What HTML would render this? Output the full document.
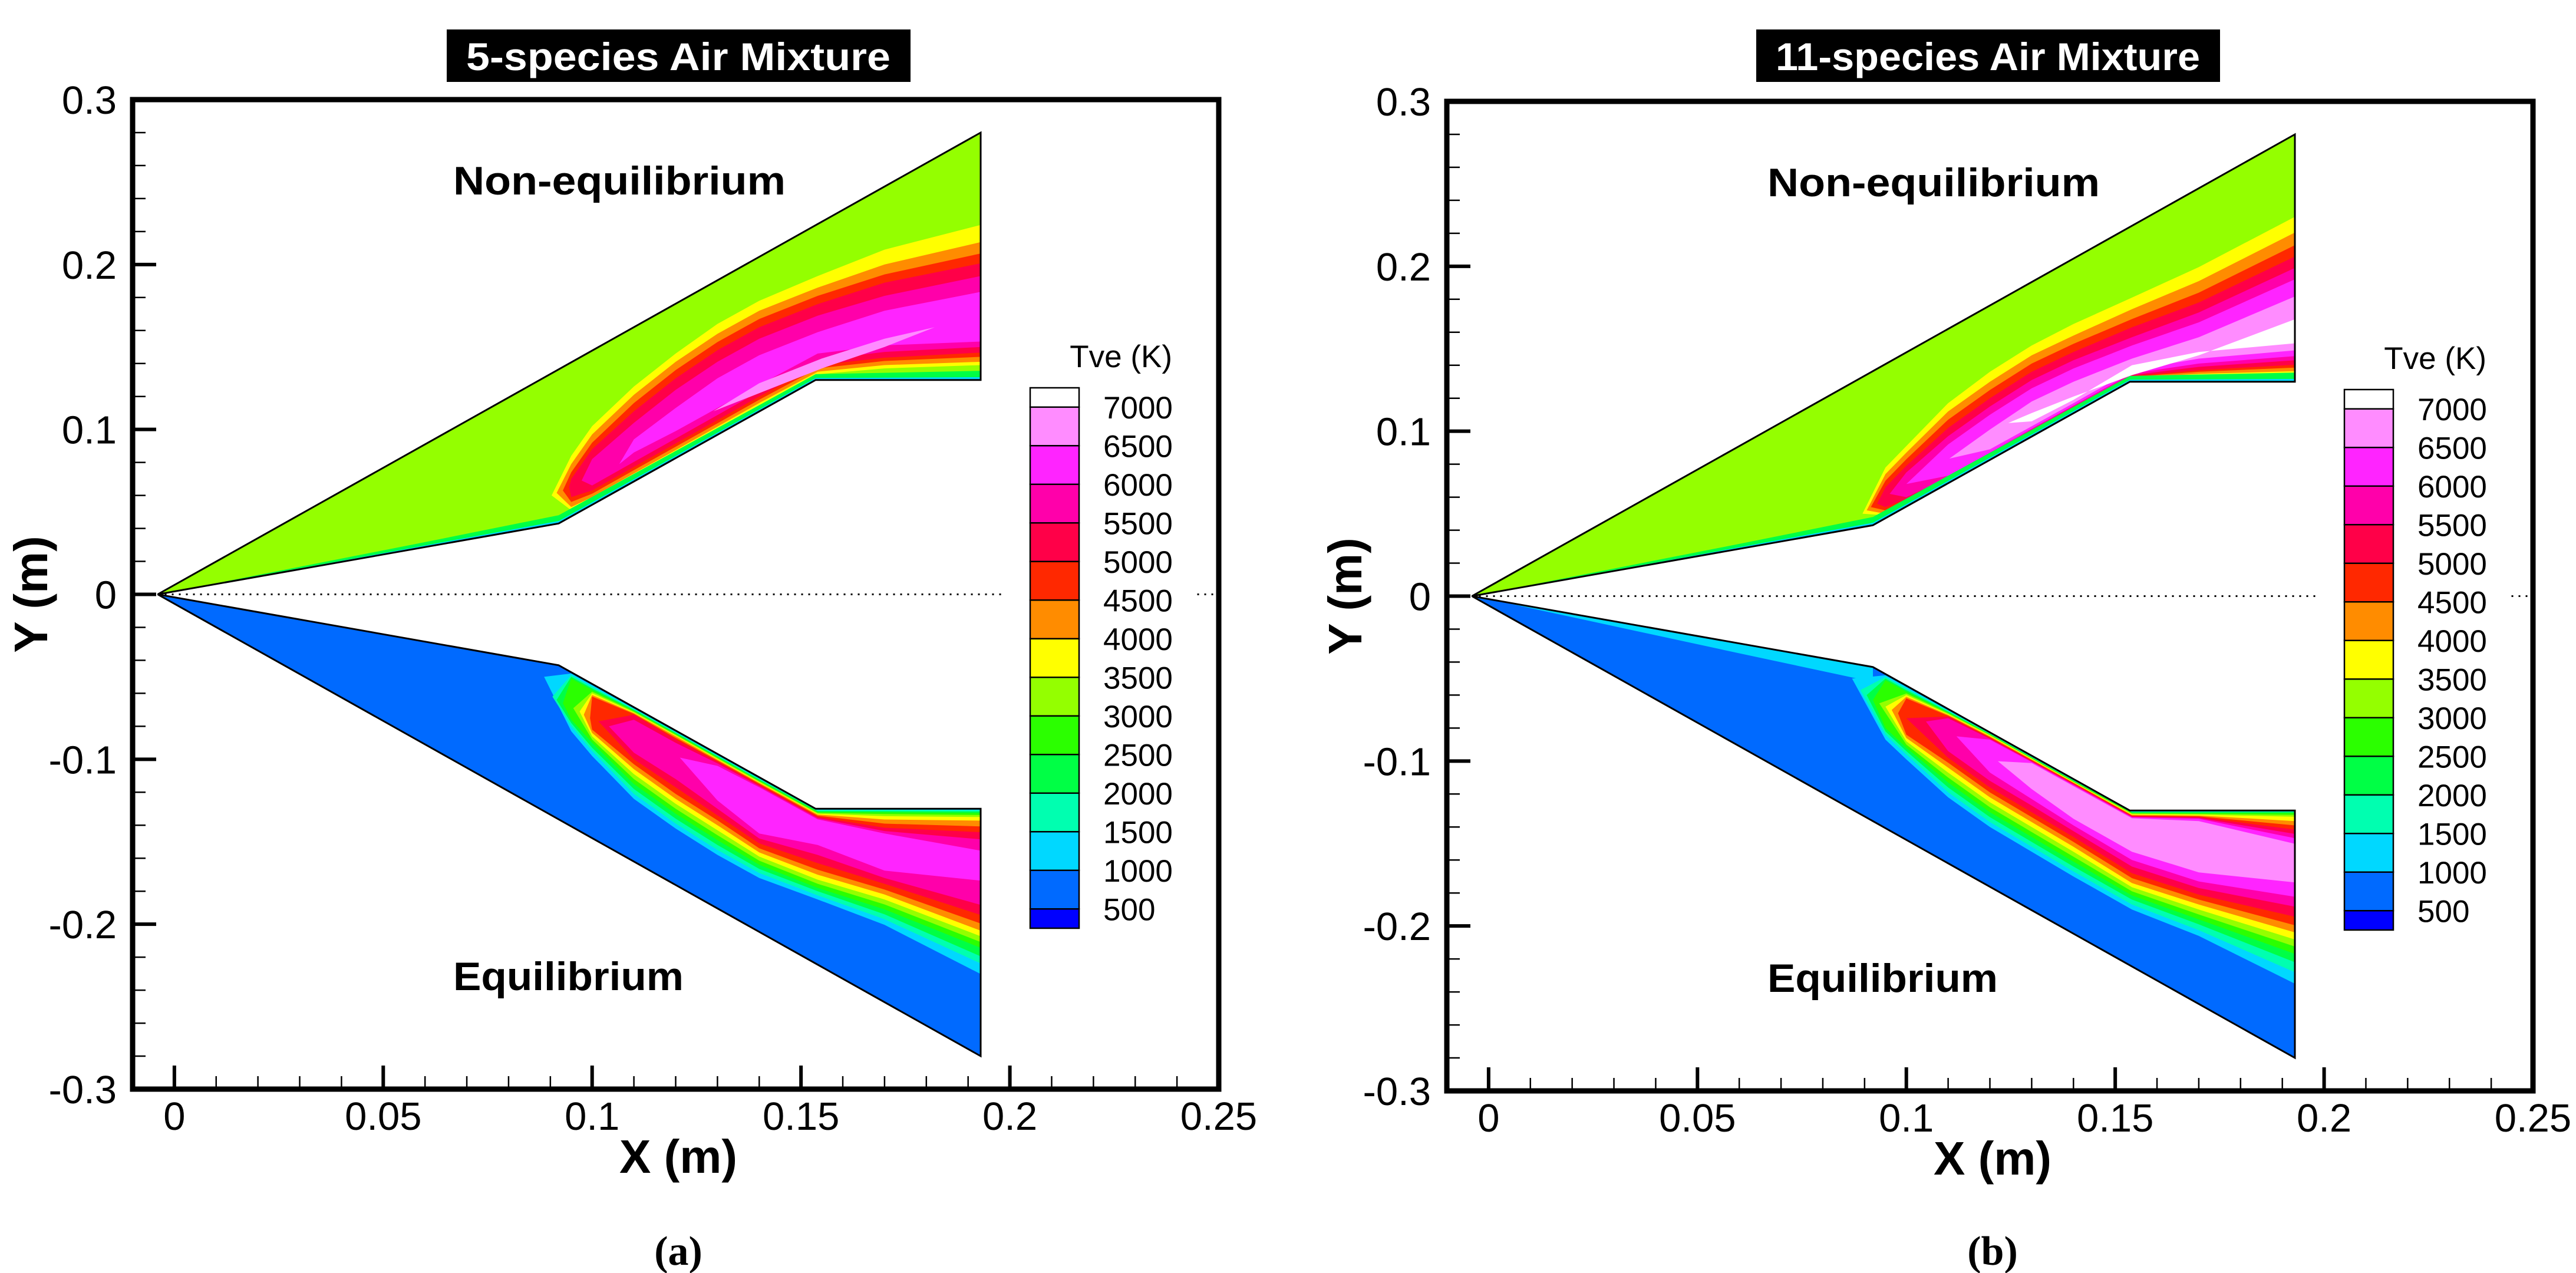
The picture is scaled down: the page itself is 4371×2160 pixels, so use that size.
<!DOCTYPE html>
<html><head><meta charset="utf-8">
<style>
html,body{margin:0;padding:0;background:#fff;}
svg{display:block;}
text{font-family:"Liberation Sans",sans-serif;}
</style></head>
<body>
<svg id="chart" xmlns="http://www.w3.org/2000/svg" width="4371" height="2160" viewBox="0 0 4371 2160">
<rect x="0" y="0" width="4371" height="2160" fill="#fff"/>
</svg>
<script>
// ---------- data ----------
const levelValues = [1000,1500,2000,2500,3000,3500,4000,4500,5000,5500,6000,6500,7000];
const levelColors = ['#00d8ff','#00ffb0','#00ff45','#2bff00','#94ff00','#ffff00','#ff8c00','#ff2800','#ff0048','#ff00aa','#ff24ff','#ff8cff','#ffffff'];
const legendLabels = ['7000','6500','6000','5500','5000','4500','4000','3500','3000','2500','2000','1500','1000','500'];
const legendColors = ['#ffffff','#ff8cff','#ff24ff','#ff00aa','#ff0048','#ff2800','#ff8c00','#ffff00','#94ff00','#2bff00','#00ff45','#00ffb0','#00d8ff','#006aff','#0000ff'];
const xTicks = [0,0.05,0.1,0.15,0.2,0.25];
const xTickLabels = ['0','0.05','0.1','0.15','0.2','0.25'];
const yTicks = [-0.3,-0.2,-0.1,0,0.1,0.2,0.3];
const yTickLabels = ['-0.3','-0.2','-0.1','0','0.1','0.2','0.3'];
const stations = [0.095,0.10,0.11,0.12,0.13,0.14,0.154,0.17,0.193];
const noseX = -0.004;
const kink1 = [0.092,0.043];
const kink2 = [0.1535,0.13];
const exitX = 0.193;
const shockEndY = 0.28;
const stripX = [0.0,0.03,0.06,0.092,0.1535,0.193];
const stripGreen = [0.0,0.0015,0.003,0.005,0.0035,0.0055];
const stripCyan = [0.0,0.0005,0.001,0.0015,0.0012,0.0017];
const bStripX = [0.0,0.03,0.06,0.092];
const bStripCyan = [0.0,0.003,0.006,0.009];

// panel (a) top: non-equilibrium, 5-species
const aTopLevels = [3500,4000,4500,5000,5500,6000];
const aTopApex = [[0.0903,0.060],[0.0915,0.0615],[0.093,0.063],[0.0945,0.065],[0.0975,0.069],[0.1065,0.079]];
const aTopOuter = [
 [0.084,0.102,0.126,0.146,0.164,0.178,0.193,0.209,0.224],
 [0.079,0.097,0.121,0.141,0.158,0.172,0.186,0.200,0.2136],
 [0.074,0.092,0.116,0.136,0.153,0.167,0.181,0.194,0.2067],
 [0.070,0.088,0.111,0.131,0.148,0.162,0.176,0.189,0.2007],
 [null,0.082,0.104,0.124,0.141,0.155,0.169,0.181,0.193],
 [null,null,0.094,0.113,0.131,0.145,0.159,0.172,0.1834]];
const aTopInner = [
 [0.051,0.0575,0.0718,0.086,0.1002,0.1145,0.1335,0.137,0.139],
 [0.053,0.059,0.0733,0.0875,0.1017,0.116,0.135,0.139,0.141],
 [0.056,0.061,0.0753,0.0895,0.1037,0.118,0.137,0.1415,0.144],
 [0.059,0.063,0.0773,0.0915,0.1057,0.120,0.139,0.1435,0.1466],
 [null,0.066,0.0803,0.0945,0.1087,0.123,0.142,0.147,0.150],
 [null,null,0.086,0.099,0.113,0.127,0.146,0.151,0.1533]];
const aStreakX = [0.129,0.14,0.155,0.17,0.182];
const aStreakOuter = [0.111,0.128,0.143,0.155,0.162];
const aStreakInner = [0.111,0.122,0.137,0.150,0.162];

// panel (a) bottom: equilibrium, 5-species
const aLowLevels = [1000,1500,2000,2500,3000,3500,4000,4500,5000,5500,6000];
const aLowApex = [[0.0885,-0.050],[0.0905,-0.062],[0.0915,-0.064],[0.093,-0.066],[0.0955,-0.069],[0.097,-0.071],[0.098,-0.073],[0.0995,-0.075],[0.1015,-0.077],[0.104,-0.080],[0.121,-0.099]];
const aLowOuter = [
 [-0.083,-0.098,-0.124,-0.142,-0.158,-0.172,-0.185,-0.2004,-0.2302],
 [-0.080,-0.095,-0.121,-0.139,-0.155,-0.169,-0.1825,-0.197,-0.2238],
 [-0.078,-0.093,-0.118,-0.136,-0.152,-0.1665,-0.180,-0.194,-0.2195],
 [-0.076,-0.090,-0.115,-0.133,-0.149,-0.164,-0.178,-0.191,-0.2143],
 [null,-0.088,-0.112,-0.130,-0.146,-0.1615,-0.1755,-0.188,-0.2108],
 [null,-0.086,-0.109,-0.127,-0.143,-0.159,-0.173,-0.185,-0.2073],
 [null,-0.084,-0.106,-0.124,-0.140,-0.1565,-0.170,-0.182,-0.2039],
 [null,-0.082,-0.103,-0.121,-0.137,-0.154,-0.167,-0.179,-0.1996],
 [null,null,-0.100,-0.117,-0.134,-0.151,-0.163,-0.1755,-0.1944],
 [null,null,-0.096,-0.112,-0.130,-0.148,-0.158,-0.172,-0.1883],
 [null,null,null,null,-0.125,-0.145,-0.152,-0.1675,-0.1736]];
const aLowInner = [
 [-0.048,-0.055,-0.069,-0.083,-0.0972,-0.1113,-0.1302,-0.1302,-0.1302],
 [-0.049,-0.056,-0.0695,-0.0835,-0.0977,-0.1118,-0.1308,-0.1308,-0.1309],
 [-0.050,-0.057,-0.070,-0.084,-0.0982,-0.1123,-0.1314,-0.1315,-0.1317],
 [-0.051,-0.058,-0.0705,-0.0845,-0.0987,-0.1128,-0.132,-0.1322,-0.1326],
 [null,-0.059,-0.071,-0.085,-0.0992,-0.1133,-0.1325,-0.1332,-0.1338],
 [null,-0.060,-0.0715,-0.0855,-0.0997,-0.1138,-0.133,-0.1345,-0.135],
 [null,-0.061,-0.072,-0.086,-0.1002,-0.1143,-0.1335,-0.1365,-0.1372],
 [null,-0.062,-0.0725,-0.087,-0.1008,-0.1148,-0.1342,-0.139,-0.1407],
 [null,null,-0.073,-0.088,-0.1015,-0.1155,-0.135,-0.1415,-0.1442],
 [null,null,-0.076,-0.090,-0.1025,-0.1162,-0.1357,-0.1435,-0.1485],
 [null,null,null,null,-0.104,-0.117,-0.1364,-0.145,-0.1554]];

// panel (b) top: non-equilibrium, 11-species
const bTopLevels = [3500,4000,4500,5000,5500,6000,6500,7000];
const bTopApex = [[0.0895,0.050],[0.0905,0.052],[0.0915,0.054],[0.093,0.056],[0.096,0.062],[0.100,0.068],[0.1103,0.0834],[0.1244,0.105]];
const bTopOuter = [
 [0.078,0.091,0.117,0.136,0.152,0.165,0.181,0.1995,0.23],
 [0.074,0.087,0.112,0.130,0.146,0.158,0.174,0.191,0.2205],
 [0.070,0.083,0.107,0.125,0.141,0.153,0.168,0.184,0.2128],
 [0.066,0.079,0.102,0.120,0.136,0.148,0.163,0.178,0.2059],
 [null,0.075,0.097,0.115,0.131,0.143,0.157,0.172,0.199],
 [null,null,0.092,0.110,0.126,0.138,0.152,0.166,0.1921],
 [null,null,null,0.101,0.118,0.130,0.144,0.157,0.1817],
 [null,null,null,null,0.111,0.121,0.134,0.146,0.1679]];
const bTopInner = [
 [0.049,0.0565,0.070,0.0845,0.099,0.113,0.132,0.134,0.1352],
 [0.050,0.057,0.0705,0.085,0.0995,0.1135,0.1325,0.1348,0.1364],
 [0.052,0.058,0.071,0.0855,0.100,0.114,0.133,0.136,0.1386],
 [0.054,0.059,0.0715,0.086,0.1005,0.1145,0.1335,0.137,0.1403],
 [null,0.060,0.072,0.0865,0.101,0.115,0.134,0.139,0.143],
 [null,null,0.073,0.087,0.1015,0.1155,0.135,0.141,0.1455],
 [null,null,null,0.089,0.103,0.117,0.137,0.144,0.149],
 [null,null,null,null,0.106,0.119,0.140,0.148,0.1533]];

// panel (b) bottom: equilibrium, 11-species
const bLowLevels = [1000,1500,2000,2500,3000,3500,4000,4500,5000,5500,6000,6500];
const bLowApex = [[0.087,-0.050],[0.089,-0.057],[0.0905,-0.060],[0.092,-0.063],[0.0935,-0.065],[0.095,-0.067],[0.0965,-0.069],[0.098,-0.071],[0.100,-0.074],[0.1047,-0.076],[0.112,-0.085],[0.1219,-0.1001]];
const bLowOuter = [
 [-0.087,-0.099,-0.122,-0.140,-0.155,-0.170,-0.190,-0.206,-0.235],
 [-0.084,-0.096,-0.119,-0.137,-0.152,-0.167,-0.187,-0.2025,-0.2281],
 [-0.082,-0.094,-0.116,-0.134,-0.149,-0.164,-0.184,-0.199,-0.222],
 [-0.080,-0.092,-0.113,-0.131,-0.146,-0.161,-0.1815,-0.196,-0.2169],
 [null,-0.090,-0.110,-0.128,-0.143,-0.158,-0.179,-0.193,-0.2125],
 [null,-0.088,-0.107,-0.125,-0.140,-0.155,-0.1765,-0.190,-0.2082],
 [null,-0.086,-0.104,-0.122,-0.137,-0.152,-0.174,-0.187,-0.2039],
 [null,-0.084,-0.101,-0.119,-0.134,-0.149,-0.171,-0.184,-0.1996],
 [null,null,-0.098,-0.116,-0.131,-0.146,-0.168,-0.181,-0.1944],
 [null,null,-0.094,-0.112,-0.127,-0.1425,-0.164,-0.177,-0.1883],
 [null,null,null,-0.107,-0.123,-0.139,-0.160,-0.173,-0.1823],
 [null,null,null,null,-0.117,-0.135,-0.155,-0.1675,-0.1736]];
const bLowInner = [
 [-0.048,-0.055,-0.069,-0.0829,-0.0971,-0.1112,-0.1302,-0.1302,-0.130],
 [-0.049,-0.056,-0.0695,-0.0832,-0.0974,-0.1115,-0.1306,-0.1305,-0.1305],
 [-0.050,-0.057,-0.070,-0.0835,-0.0977,-0.1118,-0.131,-0.131,-0.131],
 [-0.051,-0.058,-0.0705,-0.0838,-0.098,-0.1121,-0.1314,-0.1315,-0.1315],
 [null,-0.059,-0.071,-0.0841,-0.0983,-0.1124,-0.1318,-0.132,-0.1326],
 [null,-0.060,-0.0715,-0.0845,-0.0986,-0.1127,-0.1322,-0.1325,-0.1338],
 [null,-0.061,-0.072,-0.085,-0.099,-0.113,-0.1326,-0.133,-0.1364],
 [null,-0.062,-0.0725,-0.0855,-0.0994,-0.1133,-0.133,-0.1335,-0.139],
 [null,null,-0.073,-0.086,-0.0998,-0.1137,-0.1334,-0.134,-0.1416],
 [null,null,-0.074,-0.0865,-0.1002,-0.1141,-0.1338,-0.1345,-0.1442],
 [null,null,null,-0.087,-0.1006,-0.1146,-0.1342,-0.135,-0.1468],
 [null,null,null,null,-0.1012,-0.1152,-0.1347,-0.1364,-0.1502]];

// ---------- drawing ----------
const NS = 'http://www.w3.org/2000/svg';
const svg = document.getElementById('chart');
function mk(tag, parent){ const e = document.createElementNS(NS, tag); parent.appendChild(e); return e; }
function colorOf(v){ return levelColors[levelValues.indexOf(v)]; }

function drawPanel(ox, oy, title, tag, topLv, topApex, topOuter, topInner, lowLv, lowApex, lowOuter, lowInner, streak, lowStrip){
  const L = 225 + ox, R = 2068 + ox, T = 169 + oy, B = 1848 + oy;
  const sx = x => L + (x + 0.01) / 0.26 * (R - L);
  const sy = y => T + (0.3 - y) / 0.6 * (B - T);
  const P = pts => pts.map(p => sx(p[0]).toFixed(1) + ',' + sy(p[1]).toFixed(1)).join(' ');
  const g = mk('g', svg);
  
  

  const topDom = [[noseX,0],[exitX,shockEndY],[exitX,kink2[1]],[kink2[0],kink2[1]],[kink1[0],kink1[1]]];
  const lowDom = topDom.map(p => [p[0], -p[1]]);
  const defs = mk('defs', g);
  [['top',topDom],['low',lowDom]].forEach(([n,d])=>{
    const cp = mk('clipPath', defs); cp.setAttribute('id','clip-'+tag+'-'+n);
    const pp = mk('polygon', cp); pp.setAttribute('points', P(d));
  });

  function bands(half, dom, base, levels, apex, outer, inner){
    const hg = mk('g', g);
    
    
    hg.setAttribute('clip-path', 'url(#clip-'+tag+'-'+half+')');
    const bp = mk('polygon', hg);
    
    
    bp.setAttribute('points', P(dom)); bp.setAttribute('fill', base);
    levels.forEach((lv, k) => {
      const a = apex[k], pts = [a];
      for (let i = 0; i < stations.length; i++) if (inner[k][i] !== null && stations[i] > a[0]) pts.push([stations[i], inner[k][i]]);
      pts.push([exitX + 0.01, pts[pts.length-1][1]]);
      pts.push([exitX + 0.01, outer[k][stations.length-1]]);
      for (let i = stations.length - 1; i >= 0; i--) if (outer[k][i] !== null && stations[i] > a[0]) pts.push([stations[i], outer[k][i]]);
      const pl = mk('polygon', hg);
      
      
      pl.setAttribute('points', P(pts));
      pl.setAttribute('fill', colorOf(lv));
    });
    return hg;
  }
  const tg = bands('top', topDom, '#94ff00', topLv, topApex, topOuter, topInner);
  if (streak) {
    const pts = streak[0].map((x,i)=>[x, streak[1][i]]).concat(streak[0].map((x,i)=>[x, streak[2][i]]).reverse());
    const sp = mk('polygon', tg);
    
    
    sp.setAttribute('points', P(pts)); sp.setAttribute('fill', '#ff8cff');
  }
  const wallY = x => x <= kink1[0] ? kink1[1] * (x - noseX) / (kink1[0] - noseX)
                 : x <= kink2[0] ? kink1[1] + (kink2[1] - kink1[1]) * (x - kink1[0]) / (kink2[0] - kink1[0]) : kink2[1];
  [['#00ff45', stripGreen], ['#00d8ff', stripCyan]].forEach(([c, th]) => {
    const pts = stripX.map(x => [x, wallY(x)]).concat(stripX.map((x,i)=>[x, wallY(x) + th[i]]).reverse());
    pts.push([noseX, 0]);
    const sp = mk('polygon', tg);
    
    
    sp.setAttribute('points', P(pts)); sp.setAttribute('fill', c);
  });
  const lg = bands('low', lowDom, '#006aff', lowLv, lowApex, lowOuter, lowInner);
  if (lowStrip) {
    const pts = bStripX.map(x => [x, -wallY(x)]).concat(bStripX.map((x,i)=>[x, -wallY(x) - bStripCyan[i]]).reverse());
    const sp = mk('polygon', lg);
    
    
    sp.setAttribute('points', P(pts)); sp.setAttribute('fill', '#00d8ff');
    lg.insertBefore(sp, lg.children[2]);
  }
  [['top-domain-outline', topDom], ['bottom-domain-outline', lowDom]].forEach(([n, d]) => {
    const o = mk('polygon', g);
    
    
    o.setAttribute('points', P(d)); o.setAttribute('fill', 'none');
    o.setAttribute('stroke', '#000'); o.setAttribute('stroke-width', '3');
  });
  const dl = mk('line', g);
  
  
  dl.setAttribute('x1', sx(noseX)); dl.setAttribute('x2', R); dl.setAttribute('y1', sy(0)); dl.setAttribute('y2', sy(0));
  dl.setAttribute('stroke', '#000'); dl.setAttribute('stroke-width', '3'); dl.setAttribute('stroke-dasharray', '3 9');

  const lgx = 1748 + ox, lgy = 658 + oy, unit = 65.5, lw = 83;
  const wb = mk('rect', g);
  
  
  wb.setAttribute('x', 1706 + ox); wb.setAttribute('y', 560 + oy); wb.setAttribute('width', 318); wb.setAttribute('height', 1040); wb.setAttribute('fill', '#fff');
  let yy = lgy;
  legendColors.forEach((c, i) => {
    const h = (i === 0 || i === legendColors.length - 1) ? unit / 2 : unit;
    const r = mk('rect', g);
    
    
    r.setAttribute('x', lgx); r.setAttribute('y', yy); r.setAttribute('width', lw); r.setAttribute('height', h);
    r.setAttribute('fill', c); r.setAttribute('stroke', '#000'); r.setAttribute('stroke-width', '2.5');
    yy += h;
  });
  legendLabels.forEach((t, i) => {
    const tx = mk('text', g);
    
    
    tx.setAttribute('x', 1872 + ox); tx.setAttribute('y', lgy + unit / 2 + i * unit + 19);
    tx.setAttribute('font-size', '53'); tx.textContent = t;
  });
  const lt = mk('text', g);
  
  
  lt.setAttribute('x', 1989 + ox); lt.setAttribute('y', 623 + oy); lt.setAttribute('text-anchor', 'end');
  lt.setAttribute('font-size', '53'); lt.textContent = 'Tve (K)';

  const fr = mk('rect', g);
  
  
  fr.setAttribute('x', L); fr.setAttribute('y', T); fr.setAttribute('width', R - L); fr.setAttribute('height', B - T);
  fr.setAttribute('fill', 'none'); fr.setAttribute('stroke', '#000'); fr.setAttribute('stroke-width', '9');
  for (let k = -1; k <= 25; k++) {
    const x = k / 100, major = (k % 5 === 0);
    const tl = mk('line', g);
    
    
    tl.setAttribute('x1', sx(x)); tl.setAttribute('x2', sx(x)); tl.setAttribute('y1', B); tl.setAttribute('y2', B - (major ? 40 : 22));
    tl.setAttribute('stroke', '#000'); tl.setAttribute('stroke-width', major ? 6 : 2.5);
  }
  for (let k = -15; k <= 15; k++) {
    const y = k / 50, major = (k % 5 === 0);
    const tl = mk('line', g);
    
    
    tl.setAttribute('y1', sy(y)); tl.setAttribute('y2', sy(y)); tl.setAttribute('x1', L); tl.setAttribute('x2', L + (major ? 40 : 22));
    tl.setAttribute('stroke', '#000'); tl.setAttribute('stroke-width', major ? 6 : 2.5);
  }
  xTicks.forEach((v, i) => {
    const t = mk('text', g);
    
    
    t.setAttribute('x', sx(v)); t.setAttribute('y', 1917 + oy); t.setAttribute('text-anchor', 'middle');
    t.setAttribute('font-size', '67'); t.textContent = xTickLabels[i];
  });
  yTicks.forEach((v, i) => {
    const t = mk('text', g);
    
    
    t.setAttribute('x', 198 + ox); t.setAttribute('y', sy(v) + 24); t.setAttribute('text-anchor', 'end');
    t.setAttribute('font-size', '67'); t.textContent = yTickLabels[i];
  });
  const xl = mk('text', g);
  
  
  xl.setAttribute('x', 1151 + ox); xl.setAttribute('y', 1990 + oy); xl.setAttribute('text-anchor', 'middle');
  xl.setAttribute('font-size', '80'); xl.setAttribute('font-weight', 'bold'); xl.textContent = 'X (m)';
  const yl = mk('text', g);
  
  
  yl.setAttribute('transform', 'translate(' + (80 + ox) + ',' + sy(0) + ') rotate(-90)');
  yl.setAttribute('text-anchor', 'middle');
  yl.setAttribute('font-size', '80'); yl.setAttribute('font-weight', 'bold'); yl.textContent = 'Y (m)';
  [['Non-equilibrium', 330, 564, 'region-label-nonequilibrium'], ['Equilibrium', 1680, 391, 'region-label-equilibrium']].forEach(([s, y, w, n]) => {
    const t = mk('text', g);
    
    
    t.setAttribute('x', 769 + ox); t.setAttribute('y', y + oy);
    t.setAttribute('font-size', '68'); t.setAttribute('font-weight', 'bold');
    t.setAttribute('textLength', w); t.setAttribute('lengthAdjust', 'spacingAndGlyphs');
    t.textContent = s;
  });
  const tb = mk('rect', g);
  
  
  tb.setAttribute('x', 758 + ox - (ox ? 8 : 0)); tb.setAttribute('y', 50); tb.setAttribute('width', 787); tb.setAttribute('height', 89); tb.setAttribute('fill', '#000');
  const tt = mk('text', g);
  
  
  tt.setAttribute('x', 1151 + ox - (ox ? 8 : 0)); tt.setAttribute('y', 119); tt.setAttribute('text-anchor', 'middle');
  tt.setAttribute('font-size', '66'); tt.setAttribute('font-weight', 'bold'); tt.setAttribute('fill', '#fff');
  tt.setAttribute('textLength', 720); tt.setAttribute('lengthAdjust', 'spacingAndGlyphs');
  tt.textContent = title;
  const sc = mk('text', g);
  
  
  sc.setAttribute('x', 1151 + ox); sc.setAttribute('y', 2146); sc.setAttribute('text-anchor', 'middle');
  sc.setAttribute('font-size', '70'); sc.setAttribute('font-weight', 'bold'); sc.setAttribute('style', 'font-family:"Liberation Serif",serif');
  sc.textContent = tag === 'a' ? '(a)' : '(b)';
}

drawPanel(0, 0, '5-species Air Mixture', 'a', aTopLevels, aTopApex, aTopOuter, aTopInner,
          aLowLevels, aLowApex, aLowOuter, aLowInner, [aStreakX, aStreakOuter, aStreakInner], false);
drawPanel(2230, 3, '11-species Air Mixture', 'b', bTopLevels, bTopApex, bTopOuter, bTopInner,
          bLowLevels, bLowApex, bLowOuter, bLowInner, null, true);
</script>
</body></html>
